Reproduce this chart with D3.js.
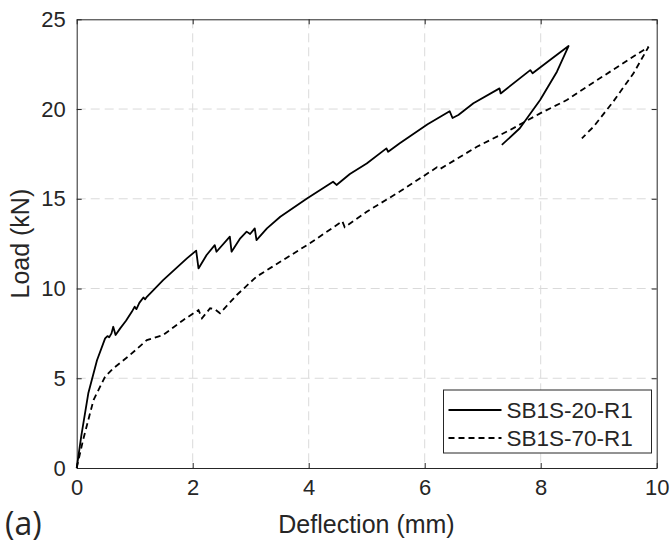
<!DOCTYPE html>
<html>
<head>
<meta charset="utf-8">
<script src="https://cdn.jsdelivr.net/npm/d3@7"></script>
<style>
  body { margin: 0; background: #fff; }
  text { font-family: "Liberation Sans", Arial, sans-serif; fill: #262626; }
</style>
</head>
<body>
<div id="chart"></div>
<script>
// data
var s20_x = [0, 0.08, 0.2, 0.35, 0.49, 0.53, 0.56, 0.6, 0.63, 0.67, 0.75, 0.85, 0.95, 1.0, 1.03, 1.08, 1.15, 1.18, 1.21,
             1.49, 1.9, 2.06, 2.1, 2.24, 2.38, 2.41, 2.64, 2.67, 2.82, 2.93, 2.99, 3.07, 3.1, 3.28, 3.51, 3.97,
             4.42, 4.48, 4.71, 5.0, 5.34, 5.37, 5.57, 6.05, 6.43, 6.48, 6.58, 6.84, 7.29, 7.31, 7.82, 7.86, 8.16,
             8.48, 8.28, 7.99, 7.64, 7.33]
var s20_y = [0, 1.8, 4.16, 6.0, 7.22, 7.35, 7.28, 7.5, 7.87, 7.41, 7.78, 8.2, 8.7, 8.99, 8.85, 9.2, 9.5, 9.4, 9.54,
             10.47, 11.68, 12.11, 11.12, 11.87, 12.42, 12.05, 12.89, 12.05, 12.8, 13.17, 13.04, 13.35, 12.7, 13.35, 14.0, 15.02,
             15.95, 15.77, 16.38, 16.97, 17.81, 17.62, 18.09, 19.15, 19.88, 19.5, 19.67, 20.32, 21.15, 20.87, 22.17, 21.99, 22.73,
             23.51, 22.08, 20.5, 18.93, 18.0]

var s70_x = [0, 0.11, 0.29, 0.49, 0.63, 0.92, 1.21, 1.49, 1.84, 2.1, 2.16, 2.3, 2.38, 2.47, 2.76, 3.1, 3.56, 4.02,
             4.58, 4.62, 5.0, 5.57, 6.21, 6.26, 6.9, 7.47, 7.99, 8.45, 8.68, 9.86, 9.6, 9.25, 8.91, 8.71]
var s70_y = [0, 1.56, 3.79, 5.09, 5.55, 6.3, 7.13, 7.41, 8.25, 8.8, 8.34, 8.9, 8.85, 8.62, 9.64, 10.66, 11.59, 12.52,
             13.75, 13.42, 14.28, 15.4, 16.75, 16.65, 17.9, 18.83, 19.76, 20.5, 21.0, 23.47, 21.99, 20.41, 19.01, 18.37]

var series_names = ["SB1S-20-R1", "SB1S-70-R1"]
var x_ticks = [0, 2, 4, 6, 8, 10]
var y_ticks = [0, 5, 10, 15, 20, 25]

var margin = {top: 19.3, right: 13.3, bottom: 76, left: 76.7};

var width = 670 - margin.left - margin.right,
    height = 544 - margin.top - margin.bottom

var svg = d3.select("#chart")
  .append("svg")
  .attr("width", 670)
  .attr("height", 544)

var g = svg.append("g")
  .attr("transform", "translate(" + margin.left + "," + margin.top + ")")

var x = d3.scaleLinear()
  .domain([0, 10])
  .range([0, width])

var y = d3.scaleLinear()
  .domain([0, 25])
  .range([height, 0])

var axis_color = "#262626"

// grid
g.selectAll(".vgrid")
  .data(x_ticks.slice(1, -1))
  .enter().append("line")
  .attr("class", "vgrid")
  .attr("x1", function(d){return x(d)})
  .attr("x2", function(d){return x(d)})
  .attr("y1", 0)
  .attr("y2", height)
  .attr("stroke", "#dadada")
  .attr("stroke-dasharray", "9,5")

g.selectAll(".hgrid")
  .data(y_ticks.slice(1, -1))
  .enter().append("line")
  .attr("class", "hgrid")
  .attr("x1", 0)
  .attr("x2", width)
  .attr("y1", function(d){return y(d)})
  .attr("y2", function(d){return y(d)})
  .attr("stroke", "#dadada")
  .attr("stroke-dasharray", "9,5")

// axes (ticks inside, box all round)
function style_axis(sel){
  sel.select(".domain").attr("stroke", axis_color)
  sel.selectAll(".tick line").attr("stroke", axis_color)
  sel.selectAll(".tick text")
    .style("font-size", "22px")
    .attr("fill", axis_color)
}

g.append("g")
  .attr("transform", "translate(0," + height + ")")
  .call(d3.axisBottom(x).tickValues(x_ticks).tickSize(-5).tickPadding(11).tickSizeOuter(0))
  .call(style_axis)

g.append("g")
  .call(d3.axisLeft(y).tickValues(y_ticks).tickSize(-5).tickPadding(11).tickSizeOuter(0))
  .call(style_axis)

g.append("g")
  .call(d3.axisTop(x).tickValues(x_ticks).tickSize(-5).tickFormat("").tickSizeOuter(0))
  .call(style_axis)

g.append("g")
  .attr("transform", "translate(" + width + ",0)")
  .call(d3.axisRight(y).tickValues(y_ticks).tickSize(-5).tickFormat("").tickSizeOuter(0))
  .call(style_axis)

// lines
var line = d3.line()
  .x(function(d){return x(d[0])})
  .y(function(d){return y(d[1])})

var s20 = d3.zip(s20_x, s20_y),
    s70 = d3.zip(s70_x, s70_y)

g.append("path")
  .datum(s20)
  .attr("d", line)
  .attr("fill", "none")
  .attr("stroke", "#000")
  .attr("stroke-width", 1.8)
  .attr("stroke-linejoin", "round")

g.append("path")
  .datum(s70)
  .attr("d", line)
  .attr("fill", "none")
  .attr("stroke", "#000")
  .attr("stroke-width", 1.8)
  .attr("stroke-dasharray", "6,4")

// axis titles
svg.append("text")
  .attr("x", 366.5)
  .attr("y", 532.5)
  .attr("text-anchor", "middle")
  .style("font-size", "25px")
  .text("Deflection (mm)")

svg.append("text")
  .attr("transform", "translate(28.5," + (margin.top + height / 2) + ") rotate(-90)")
  .attr("text-anchor", "middle")
  .style("font-size", "25px")
  .text("Load (kN)")

svg.append("text")
  .attr("x", 5)
  .attr("y", 535)
  .style("font-family", "'Open Sans', Lato, sans-serif")
  .style("font-size", "32px")
  .attr("fill", "#000")
  .text("(a)")

// legend
var legend = svg.append("g")
  .attr("transform", "translate(443.5,390)")

legend.append("rect")
  .attr("width", 208)
  .attr("height", 63)
  .attr("fill", "#fff")
  .attr("stroke", axis_color)

var items = legend.selectAll(".item")
  .data(series_names)
  .enter().append("g")
  .attr("class", "item")
  .attr("transform", function(d, i){return "translate(0," + (20 + i * 28) + ")"})

items.append("line")
  .attr("x1", 5)
  .attr("x2", 58)
  .attr("stroke", "#000")
  .attr("stroke-width", 1.8)
  .attr("stroke-dasharray", function(d, i){return i == 0 ? null : "6,4"})

items.append("text")
  .attr("x", 63)
  .attr("dy", "0.35em")
  .style("font-size", "22.5px")
  .text(function(d){return d})
</script>
</body>
</html>
